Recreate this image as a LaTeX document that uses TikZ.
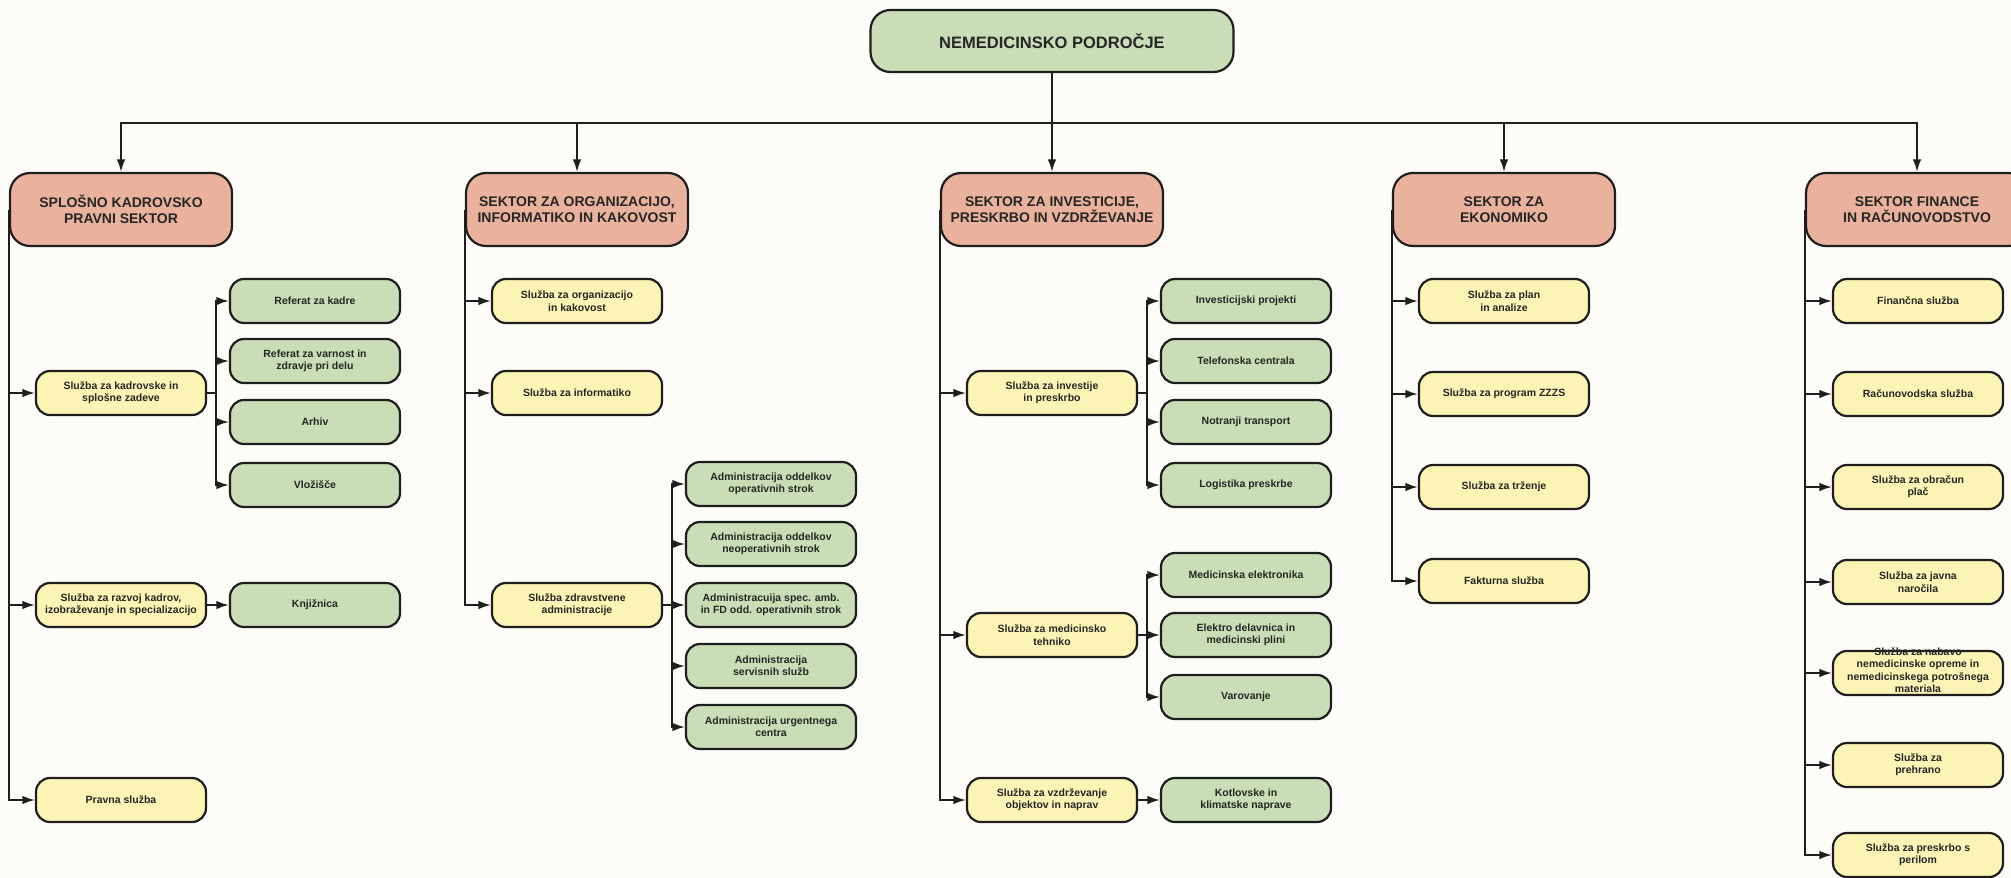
\documentclass[tikz,border=0pt]{standalone}
\usepackage{fontspec}
\setmainfont{Liberation Sans}
\usetikzlibrary{arrows.meta}

\definecolor{sektorbarva}{RGB}{234,178,157}
\definecolor{zelena}{RGB}{201,221,183}
\definecolor{rumena}{RGB}{252,244,180}
\definecolor{obroba}{RGB}{30,30,30}
\definecolor{ozadje}{RGB}{253,252,249}

\begin{document}
\begin{tikzpicture}[x=1pt,y=-1pt,
  okvir/.style={draw=obroba,line width=2.2pt,align=center,text=black!85},
  vrh/.style={okvir,fill=zelena,rounded corners=20pt,minimum width=363pt,minimum height=62pt,font=\bfseries\fontsize{16.5}{19}\selectfont},
  sektor/.style={okvir,fill=sektorbarva,rounded corners=20pt,minimum width=222pt,minimum height=73pt,inner sep=2pt,font=\bfseries\fontsize{14}{16.5}\selectfont},
  mala/.style={okvir,rounded corners=14pt,minimum width=170pt,minimum height=44pt,inner sep=2pt,font=\bfseries\fontsize{10.5}{12.3}\selectfont},
  sluzba/.style={mala,fill=rumena},
  oddelek/.style={mala,fill=zelena},
  povezava/.style={draw=obroba,line width=1.8pt,-{Latex[length=12.5pt,width=8.5pt]}}]
\fill[ozadje] (0,0) rectangle (2011,878);
\useasboundingbox (0,0) rectangle (2011,878);

\node[vrh] (nemed) at (1052,41) {NEMEDICINSKO PODROČJE};
\coordinate (bus) at (0,123);

\node[sektor] (sek1) at (121,209.5) {SPLOŠNO KADROVSKO\\PRAVNI SEKTOR};
\node[sektor] (sek2) at (577,209.5) {SEKTOR ZA ORGANIZACIJO,\\INFORMATIKO IN KAKOVOST};
\node[sektor] (sek3) at (1052,209.5) {SEKTOR ZA INVESTICIJE,\\PRESKRBO IN VZDRŽEVANJE};
\node[sektor] (sek4) at (1504,209.5) {SEKTOR ZA\\EKONOMIKO};
\node[sektor] (sek5) at (1917,209.5) {SEKTOR FINANCE\\IN RAČUNOVODSTVO};
\foreach \s in {sek1,sek2,sek3,sek4,sek5}
  \draw[povezava,line width=1.6pt] (nemed.south) |- (bus -| \s.north) -- (\s.north);

% splosno kadrovsko pravni sektor
\node[sluzba] (kadr) at (121,393) {Služba za kadrovske in\\splošne zadeve};
\node[sluzba] (razvoj) at (121,605) {Služba za razvoj kadrov,\\izobraževanje in specializacijo};
\node[sluzba] (pravna) at (121,800) {Pravna služba};
\node[oddelek] (refkadre) at (315,301) {Referat za kadre};
\node[oddelek] (refvarn) at (315,361) {Referat za varnost in\\zdravje pri delu};
\node[oddelek] (arhiv) at (315,422) {Arhiv};
\node[oddelek] (vlozisce) at (315,485) {Vložišče};
\node[oddelek] (knjiz) at (315,605) {Knjižnica};
\foreach \c in {kadr,razvoj,pravna}
  \draw[povezava] (sek1.west) |- (\c.west);
\foreach \c in {refkadre,refvarn,arhiv,vlozisce}
  \draw[povezava] (kadr.east) -- ++(9,0) |- (\c.west);
\draw[povezava] (razvoj) -- (knjiz);

% organizacija, informatika, kakovost
\node[sluzba] (organ) at (577,301) {Služba za organizacijo\\in kakovost};
\node[sluzba] (inform) at (577,393) {Služba za informatiko};
\node[sluzba] (zdrav) at (577,605) {Služba zdravstvene\\administracije};
\node[oddelek] (admop) at (771,484) {Administracija oddelkov\\operativnih strok};
\node[oddelek] (admneop) at (771,544) {Administracija oddelkov\\neoperativnih strok};
\node[oddelek] (admspec) at (771,605) {Administracuija spec. amb.\\in FD odd. operativnih strok};
\node[oddelek] (admserv) at (771,666) {Administracija\\servisnih služb};
\node[oddelek] (admurg) at (771,727) {Administracija urgentnega\\centra};
\foreach \c in {organ,inform,zdrav}
  \draw[povezava] (sek2.west) |- (\c.west);
\foreach \c in {admop,admneop,admspec,admserv,admurg}
  \draw[povezava] (zdrav.east) -- ++(9,0) |- (\c.west);

% investicije, preskrba, vzdrzevanje
\node[sluzba] (invest) at (1052,393) {Služba za investije\\in preskrbo};
\node[sluzba] (medteh) at (1052,635) {Služba za medicinsko\\tehniko};
\node[sluzba] (vzdrz) at (1052,800) {Služba za vzdrževanje\\objektov in naprav};
\node[oddelek] (invproj) at (1246,301) {Investicijski projekti};
\node[oddelek] (telef) at (1246,361) {Telefonska centrala};
\node[oddelek] (transp) at (1246,422) {Notranji transport};
\node[oddelek] (logist) at (1246,485) {Logistika preskrbe};
\node[oddelek] (medel) at (1246,575) {Medicinska elektronika};
\node[oddelek] (elektro) at (1246,635) {Elektro delavnica in\\medicinski plini};
\node[oddelek] (varov) at (1246,697) {Varovanje};
\node[oddelek] (kotl) at (1246,800) {Kotlovske in\\klimatske naprave};
\foreach \c in {invest,medteh,vzdrz}
  \draw[povezava] (sek3.west) |- (\c.west);
\foreach \c in {invproj,telef,transp,logist}
  \draw[povezava] (invest.east) -- ++(9,0) |- (\c.west);
\foreach \c in {medel,elektro,varov}
  \draw[povezava] (medteh.east) -- ++(9,0) |- (\c.west);
\draw[povezava] (vzdrz) -- (kotl);

% ekonomika
\node[sluzba] (plan) at (1504,301) {Služba za plan\\in analize};
\node[sluzba] (zzzs) at (1504,394) {Služba za program ZZZS};
\node[sluzba] (trzenje) at (1504,487) {Služba za trženje};
\node[sluzba] (faktur) at (1504,581) {Fakturna služba};
\foreach \c in {plan,zzzs,trzenje,faktur}
  \draw[povezava] (sek4.west) |- (\c.west);

% finance in racunovodstvo
\node[sluzba] (financ) at (1918,301) {Finančna služba};
\node[sluzba] (racun) at (1918,394) {Računovodska služba};
\node[sluzba] (obrac) at (1918,487) {Služba za obračun\\plač};
\node[sluzba] (javna) at (1918,582) {Služba za javna\\naročila};
\node[sluzba] (nabava) at (1918,673) {\raisebox{-2.6pt}{\smash{\begin{tabular}{@{}c@{}}Služba za nabavo\\nemedicinske opreme in\\nemedicinskega potrošnega\\materiala\end{tabular}}}};
\node[sluzba] (prehr) at (1918,765) {Služba za\\prehrano};
\node[sluzba] (perilo) at (1918,855) {Služba za preskrbo s\\perilom};
\foreach \c in {financ,racun,obrac,javna,nabava,prehr,perilo}
  \draw[povezava] (sek5.west) |- (\c.west);
\end{tikzpicture}
\end{document}
